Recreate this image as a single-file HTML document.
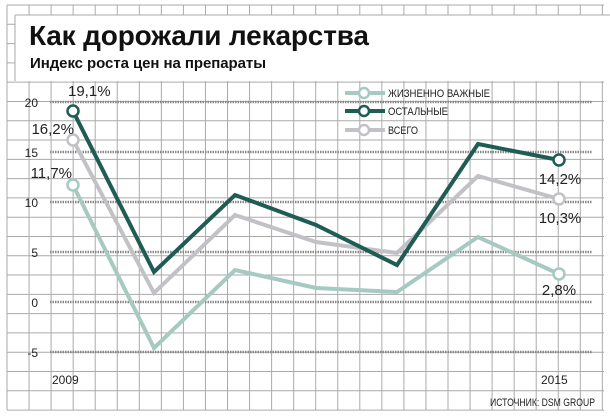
<!DOCTYPE html>
<html><head><meta charset="utf-8"><style>
body{margin:0;background:#fff}
svg{display:block;font-family:"Liberation Sans Narrow","Liberation Sans",sans-serif}
</style></head><body>
<svg id="c" width="610" height="418" viewBox="0 0 610 418">
<g id="grid"></g>
<rect x="15" y="15" width="595" height="66" fill="#fff"/>
<line x1="15" y1="15" x2="610" y2="15" stroke="#a9a9a9" stroke-width="1"/>
<line x1="15" y1="15" x2="15" y2="81" stroke="#a9a9a9" stroke-width="1"/>
<text x="29" y="45" font-family="Liberation Sans,sans-serif" font-weight="bold" font-size="28" textLength="340" fill="#111">Как дорожали лекарства</text>
<text x="30" y="68" font-family="Liberation Sans,sans-serif" font-weight="bold" font-size="15" textLength="236" fill="#111">Индекс роста цен на препараты</text>
<g id="axes"></g>
<g id="series"></g>
<g id="legend"></g>
<text x="490" y="406" font-size="11" textLength="105" lengthAdjust="spacingAndGlyphs" fill="#222">ИСТОЧНИК: DSM GROUP</text>
</svg>
<script>
const years=["2009","2010","2011","2012","2013","2014","2015"];
const yTicks=[20,15,10,5,0,-5];
const vital=[11.7,-4.6,3.2,1.4,1.0,6.5,2.8];
const other=[19.1,3.0,10.7,7.7,3.7,15.8,14.2];
const total=[16.2,0.9,8.7,6.0,4.9,12.6,10.3];
const names=["ЖИЗНЕННО ВАЖНЫЕ","ОСТАЛЬНЫЕ","ВСЕГО"];
const NS="http://www.w3.org/2000/svg";
const X=i=>73+i*81;
const Y=v=>302-10*v;
function mk(t,a,p){const e=document.createElementNS(NS,t);for(const k in a)e.setAttribute(k,a[k]);p.appendChild(e);return e;}
const grid=document.getElementById('grid');
for(let x=7;x<=605;x+=22.05){mk('line',{x1:x,y1:5,x2:x,y2:410,stroke:'#aaa','stroke-width':1},grid);}
for(let k=0;k<=21;k++){const y=5+k*19.29;mk('line',{x1:7,y1:y,x2:604,y2:y,stroke:'#aaa','stroke-width':1},grid);}
const axes=document.getElementById('axes');
yTicks.forEach(t=>{
 const l=mk('line',{x1:50,y1:Y(t),x2:592,y2:Y(t),stroke:'#888','stroke-width':2.5,'stroke-dasharray':'1.5 1'},axes);
 
 
 const tx=mk('text',{x:38,y:Y(t)+5,'text-anchor':'end','font-size':12,fill:'#222'},axes);
 tx.textContent=t;
 
 
});
[[0,"2009"],[6,"2015"]].forEach(([i,s])=>{
 const tx=mk('text',{x:X(i)-20+(i?2:-1),y:384,'font-size':12,fill:'#222'},axes);
 tx.textContent=s;
 
 
});
const ser=document.getElementById('series');
const defs=[[vital,'#a6c9c1','vital'],[total,'#c2c2c6','total'],[other,'#1f5c53','other']];
defs.forEach(([d,c,n])=>{
 const p=mk('polyline',{points:d.map((v,i)=>X(i)+','+Y(v)).join(' '),fill:'none',stroke:c,'stroke-width':4,'stroke-linejoin':'miter'},ser);
 
 
 [0,6].forEach(i=>{
  const ci=mk('circle',{cx:X(i),cy:Y(d[i]),r:5.5,fill:'#fff',stroke:c,'stroke-width':2.5},ser);
  
  
 });
});
const fmt=v=>String(v).replace('.',',')+'%';
const labs=[[other,0,X(0)-5,Y(other[0])-15,'start'],[total,0,X(0)+1,Y(total[0])-6,'end'],[vital,0,X(0)-1,Y(vital[0])-7,'end'],
[other,6,X(6)+1,Y(other[6])+24,'middle'],[total,6,X(6)+1,Y(total[6])+24,'middle'],[vital,6,X(6)+0,Y(vital[6])+21,'middle']];
labs.forEach(([d,i,x,y,a])=>{
 const t=mk('text',{x:x,y:y,'text-anchor':a,'font-family':'Liberation Sans,sans-serif','font-size':15,fill:'#222'},ser);
 t.textContent=fmt(d[i]);
 
 
});
const lg=document.getElementById('legend');
[['#a6c9c1',93,102],['#1f5c53',111,60],['#c2c2c6',130,30]].forEach(([c,y,w],k)=>{
 mk('line',{x1:345,y1:y,x2:385,y2:y,stroke:c,'stroke-width':4},lg);
 mk('circle',{cx:364,cy:y,r:5,fill:'#fff',stroke:c,'stroke-width':2.5},lg);
 const t=mk('text',{x:388,y:y+4,'font-size':11,fill:'#222',textLength:w,lengthAdjust:'spacingAndGlyphs'},lg);
 t.textContent=names[k];
 
 
});
</script>
</body></html>
